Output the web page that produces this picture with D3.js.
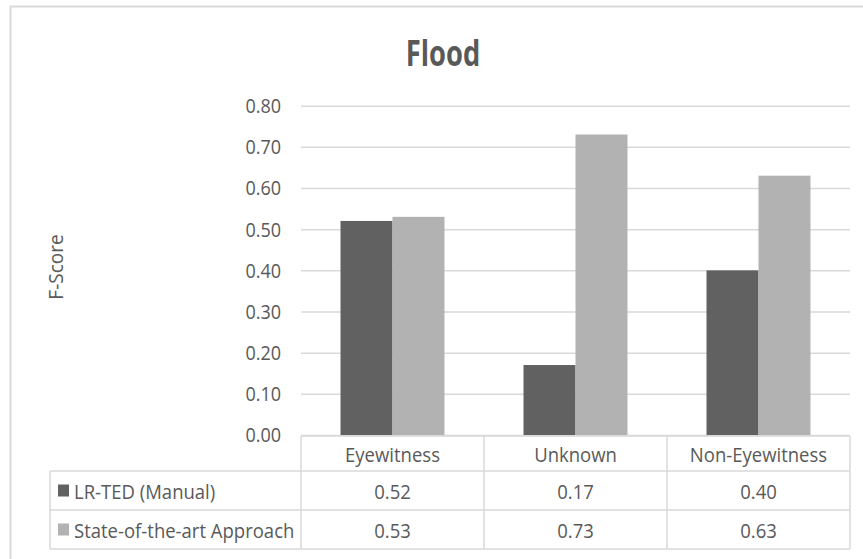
<!DOCTYPE html>
<html>
<head>
<meta charset="utf-8">
<script src="https://cdn.jsdelivr.net/npm/d3@7"></script>
<style>
  html, body { margin: 0; padding: 0; background: #fff; }
  svg { display: block; }
  text { font-family: "Open Sans", "Noto Sans", sans-serif; fill: #595959; }
</style>
</head>
<body>
<svg id="chart" width="863" height="559"></svg>
<script>
// Flood F-Score by witness category
const title = "Flood";
const yLabel = "F-Score";
const categories = ["Eyewitness", "Unknown", "Non-Eyewitness"];
const seriesNames = ["LR-TED (Manual)", "State-of-the-art Approach"];
const lrTed = [0.52, 0.17, 0.40];
const stateOfArt = [0.53, 0.73, 0.63];
const yTicks = [0, 0.1, 0.2, 0.3, 0.4, 0.5, 0.6, 0.7, 0.8];
const seriesColors = ["#616161", "#b2b2b2"];

const seriesValues = [lrTed, stateOfArt];

const svg = d3.select("#chart");
const W = 863, H = 559;
const gridColor = "#d9d9d9";
const sx = 0.95; // horizontal squeeze for the narrow face

// layout
const plot = { left: 301, right: 850, top: 105.7, bottom: 435 };
const table = { left: 50, headTop: 436, rowH: 39 };
table.headBottom = 471;

// outer frame
svg.append("rect")
  .attr("x", 10.5).attr("y", 6.5)
  .attr("width", W + 40).attr("height", H + 40)
  .attr("fill", "none").attr("stroke", gridColor).attr("stroke-width", 2);

// helper: text with horizontal squeeze
function label(parent, x, y, str, opts = {}) {
  const g = parent.append("g")
    .attr("transform", `translate(${x},${y}) ${opts.rotate ? `rotate(${opts.rotate})` : ""} scale(${opts.sx ?? sx},1)`);
  const t = g.append("text")
    .attr("text-anchor", opts.anchor || "middle")
    .attr("dominant-baseline", "central")
    .style("font-size", (opts.size || 19.5) + "px")
    .text(str);
  if (opts.weight) t.style("font-weight", opts.weight);
  return t;
}

// scales
const y = d3.scaleLinear().domain([0, 0.8]).range([plot.bottom, plot.top]);
const x0 = d3.scaleBand().domain(categories).range([plot.left, plot.right]).padding(0);
const x1 = d3.scaleBand().domain(seriesNames).range([0, x0.bandwidth()])
  .paddingInner(0).paddingOuter(0.76);

// gridlines
const yAxis = d3.axisLeft(y).tickValues(yTicks).tickSize(-(plot.right - plot.left)).tickFormat("");
const ga = svg.append("g").attr("transform", `translate(${plot.left},0)`).call(yAxis);
ga.select(".domain").remove();
ga.selectAll(".tick line").attr("stroke", gridColor).attr("stroke-width", 1.5);

// tick labels
const fmt = d3.format(".2f");
yTicks.forEach(v => label(svg, 281, y(v), fmt(v), { anchor: "end", size: 20, sx: 0.9 }));

// bars
const groups = svg.append("g").selectAll("g")
  .data(categories)
  .join("g")
  .attr("transform", d => `translate(${x0(d)},0)`);

groups.selectAll("rect")
  .data((d, i) => seriesNames.map((s, k) => ({ s, k, v: seriesValues[k][i] })))
  .join("rect")
  .attr("x", d => x1(d.s))
  .attr("y", d => y(d.v))
  .attr("width", x1.bandwidth())
  .attr("height", d => y(0) - y(d.v))
  .attr("fill", d => seriesColors[d.k]);

// data table
const tg = svg.append("g");
const line = (x1_, y1_, x2_, y2_) => tg.append("line")
  .attr("x1", x1_).attr("y1", y1_).attr("x2", x2_).attr("y2", y2_)
  .attr("stroke", gridColor).attr("stroke-width", 1.5);

const rowTops = seriesNames.map((_, k) => table.headBottom + k * table.rowH);
const tableBottom = table.headBottom + seriesNames.length * table.rowH;

line(plot.left, table.headTop, plot.right, table.headTop);
line(table.left, table.headBottom, plot.right, table.headBottom);
rowTops.forEach((t, k) => line(table.left, t + table.rowH, plot.right, t + table.rowH));
line(table.left, table.headBottom, table.left, tableBottom);
[plot.left, ...categories.map(c => x0(c) + x0.bandwidth())].forEach(xv =>
  line(xv, table.headTop, xv, tableBottom));

// header row
categories.forEach(c => label(svg, x0(c) + x0.bandwidth() / 2, (table.headTop + table.headBottom) / 2 + 1, c));

// series rows
seriesNames.forEach((s, k) => {
  const cy = rowTops[k] + table.rowH / 2;
  svg.append("rect")
    .attr("x", 58).attr("y", cy - 6)
    .attr("width", 11).attr("height", 12)
    .attr("fill", seriesColors[k]);
  label(svg, 74, cy + 1, s, { anchor: "start" });
  categories.forEach((c, i) =>
    label(svg, x0(c) + x0.bandwidth() / 2, cy + 1, fmt(seriesValues[k][i])));
});

// title and axis name
label(svg, 443, 52, title, { size: 35, weight: 700, sx: 0.78 });
label(svg, 55, 267, yLabel, { rotate: -90, size: 20 });
</script>
</body>
</html>
